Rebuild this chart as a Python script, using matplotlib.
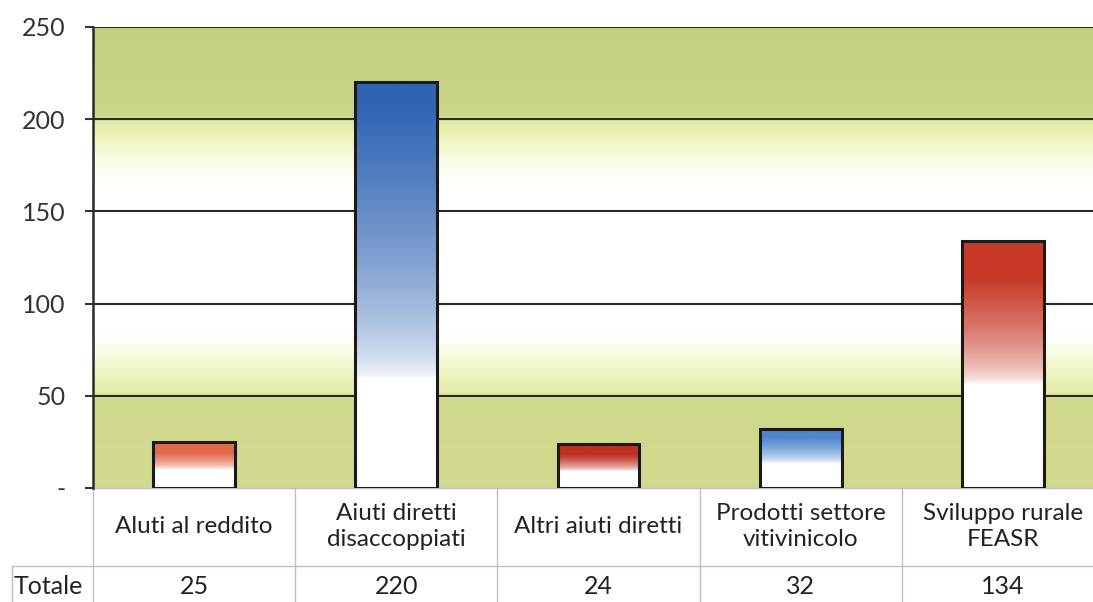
import matplotlib.pyplot as plt
import numpy as np
from matplotlib.colors import to_rgb, LinearSegmentedColormap

plt.rcParams['font.family'] = ['Lato', 'DejaVu Sans']

# data
categorie = ['Aluti al reddito', 'Aiuti diretti\ndisaccoppiati', 'Altri aiuti diretti',
             'Prodotti settore\nvitivinicolo', 'Sviluppo rurale\nFEASR']
totali = [25, 220, 24, 32, 134]
totali_label = ['25', '220', '24', '32', '134']
yticks = [0, 50, 100, 150, 200, 250]
ytick_labels = ['-', '50', '100', '150', '200', '250']

# colore in cima e dove la sfumatura arriva al bianco (frazione dell'altezza)
bar_colors = ['#e26a4a', '#2f64b4', '#bf3020', '#4f86cf', '#c73a28']
fade_lo = [0.40, 0.27, 0.38, 0.42, 0.42]
fade_hi = [0.75, 0.95, 0.75, 0.85, 0.85]

# sfondo: stops in unita' dei dati
bg_stops = [(0, '#d3da90'), (47, '#d0d88c'), (52, '#e6ecaa'), (64, '#f2f5c6'),
            (76, '#fcfdee'), (84, '#ffffff'), (165, '#ffffff'), (178, '#fbfce6'),
            (192, '#eef2b8'), (199, '#e0e7a4'), (203, '#ccd588'), (250, '#c4ce7e')]


def main():
    fig = plt.figure(figsize=(10.93, 6.02), dpi=100)
    ax = fig.add_axes([93 / 1093, 114 / 602, 1011 / 1093, 461 / 602])

    # sfondo sfumato
    cmap = LinearSegmentedColormap.from_list(
        'bg', [(v / 250, c) for v, c in bg_stops])
    grad = np.linspace(0, 1, 500).reshape(-1, 1)
    ax.imshow(grad, cmap=cmap, aspect='auto', origin='lower',
              extent=[-0.5, 4.5, 0, 250], zorder=0, interpolation='bilinear')

    for y in yticks[1:]:
        ax.axhline(y, color='#2a2a2a', lw=1.5, zorder=1)

    x = np.arange(len(categorie))
    bars = ax.bar(x, totali, width=0.405, facecolor='none', edgecolor='#1a1a1a',
                  lw=2.2, zorder=3)

    for b, col, lo, hi in zip(bars, bar_colors, fade_lo, fade_hi):
        h = b.get_height()
        f = np.linspace(0, 1, 300)
        t = np.clip((f - lo) / (hi - lo), 0, 1) ** 0.6
        c = np.array(to_rgb(col))
        img = (1 - t[:, None]) * np.ones(3) + t[:, None] * c
        im = ax.imshow(img[:, None, :], aspect='auto', origin='lower',
                       extent=[b.get_x(), b.get_x() + b.get_width(), 0, h],
                       zorder=2, interpolation='bilinear')
        im.set_clip_path(b)

    ax.set_xlim(-0.5, 4.5)
    ax.set_ylim(0, 250)

    ax.set_xticks([])
    ax.set_yticks(yticks)
    ax.set_yticklabels(ytick_labels, fontsize=18, color='#333333')
    ax.tick_params(axis='y', length=6, width=1.5, color='#333333', pad=14)
    for s in ['top', 'right', 'bottom']:
        ax.spines[s].set_visible(False)
    ax.spines['left'].set_linewidth(1.8)
    ax.spines['left'].set_color('#2a2a2a')

    # tabella sotto il grafico
    tr = ax.get_xaxis_transform()
    line_kw = dict(color='#b9bfcc', lw=1, transform=tr, clip_on=False)
    ax.plot([-0.5, 4.5], [0, 0], **line_kw)
    ax.plot([-0.9, 4.5], [-0.169, -0.169], **line_kw)
    ax.plot([-0.9, -0.9], [-0.169, -0.3], **line_kw)
    for xe in np.arange(-0.5, 4.6, 1.0):
        ax.plot([xe, xe], [0, -0.3], **line_kw)

    for xi, lab, tot in zip(x, categorie, totali_label):
        ax.text(xi, -0.084, lab, transform=tr, ha='center', va='center',
                fontsize=17.5, color='#222222', linespacing=1.3)
        ax.text(xi, -0.214, tot, transform=tr, ha='center', va='center',
                fontsize=18, color='#222222')
    ax.text(-0.72, -0.214, 'Totale', transform=tr, ha='center', va='center',
            fontsize=18, color='#222222')

    fig.savefig('out.png', dpi=100)


if __name__ == "__main__":
    main()
